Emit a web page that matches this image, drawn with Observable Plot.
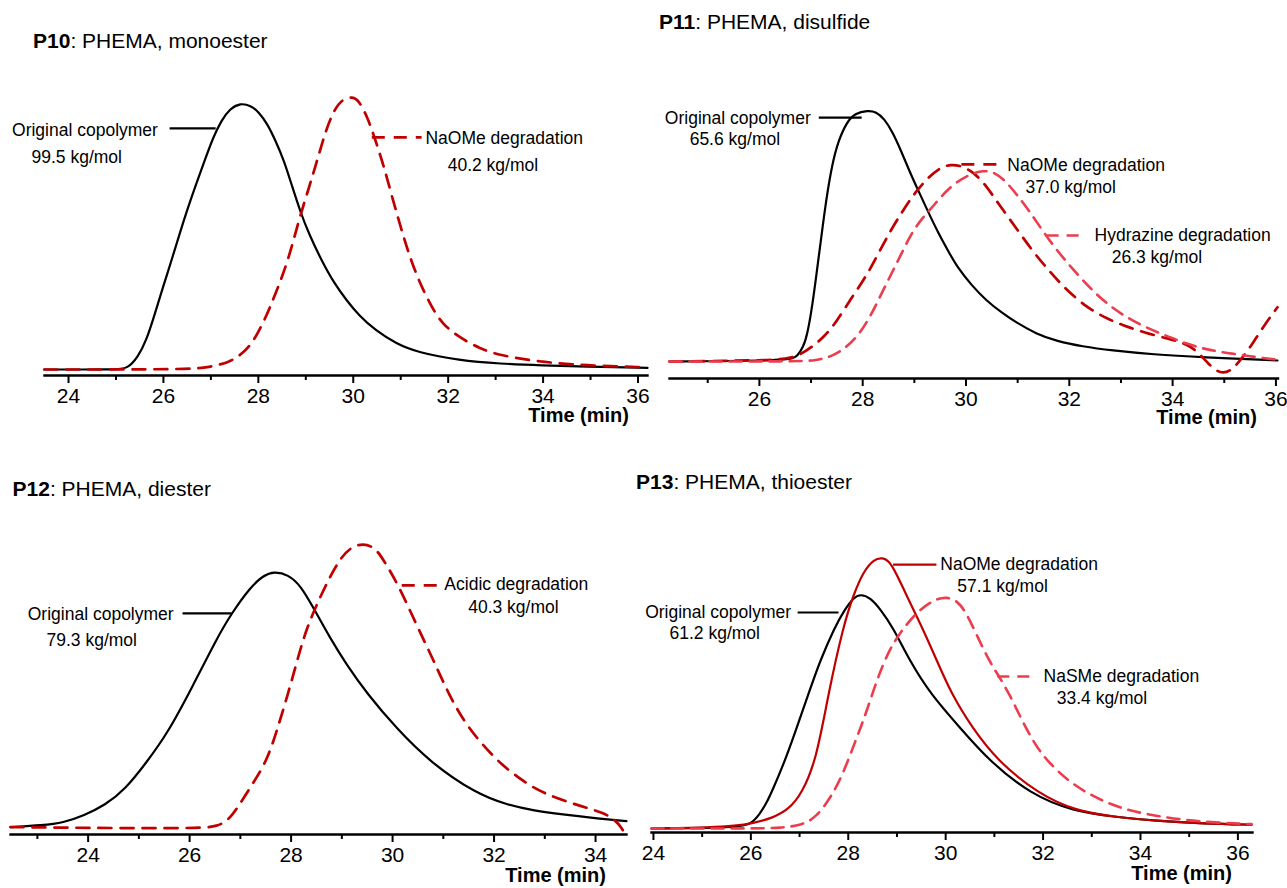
<!DOCTYPE html>
<html><head><meta charset="utf-8">
<script src="https://cdn.jsdelivr.net/npm/d3@7"></script>
<script src="https://cdn.jsdelivr.net/npm/@observablehq/plot@0.6"></script>
<style>
body{margin:0;background:#fff;}
#root{position:relative;width:1287px;height:888px;overflow:hidden;font-family:"Liberation Sans",Arial,sans-serif;color:#000;}
.panel{position:absolute;}
.panel svg{overflow:visible;}
.title{position:absolute;font-size:21px;white-space:nowrap;line-height:1;}
.xlabel{position:absolute;font-size:20px;font-weight:bold;white-space:nowrap;line-height:1;}
</style></head><body><div id="root"></div>
<script>
// ---------- DATA (time in min, relative intensity) ----------
// P10: PHEMA, monoester
const p10OrigT = [23.49, 25.0, 25.245, 25.46, 25.64, 25.82, 25.99, 26.17, 26.34, 26.52, 26.69, 26.87, 27.05, 27.22, 27.40, 27.62, 27.84, 28.01, 28.19, 28.36, 28.54, 28.71, 28.89, 29.07, 29.33, 29.59, 29.86, 30.12, 30.47, 30.91, 31.35, 32.23, 33.10, 33.98, 34.86, 36.2];
const p10OrigV = [0, 0, 0.003, 0.045, 0.106, 0.204, 0.302, 0.399, 0.497, 0.595, 0.680, 0.766, 0.851, 0.912, 0.955, 0.976, 0.967, 0.943, 0.900, 0.839, 0.766, 0.672, 0.575, 0.495, 0.400, 0.318, 0.253, 0.198, 0.143, 0.094, 0.063, 0.033, 0.021, 0.015, 0.011, 0.006];
const p10NaomeT = [23.49, 26.52, 26.96, 27.40, 27.66, 27.92, 28.19, 28.36, 28.63, 28.85, 29.07, 29.24, 29.42, 29.59, 29.77, 29.99, 30.12, 30.30, 30.47, 30.65, 30.82, 31.00, 31.17, 31.35, 31.61, 31.87, 32.23, 32.67, 33.10, 33.98, 34.86, 36.2];
const p10NaomeV = [0, 0, 0.008, 0.027, 0.057, 0.106, 0.204, 0.277, 0.399, 0.546, 0.668, 0.766, 0.875, 0.949, 0.991, 1.0, 0.985, 0.924, 0.839, 0.741, 0.631, 0.521, 0.424, 0.338, 0.241, 0.167, 0.118, 0.076, 0.051, 0.027, 0.015, 0.008];

// P11: PHEMA, disulfide
const p11OrigT = [24.26, 26.61, 26.73, 26.85, 26.93, 27.01, 27.09, 27.19, 27.29, 27.41, 27.53, 27.69, 27.85, 28.10, 28.26, 28.42, 28.58, 28.74, 28.90, 29.06, 29.27, 29.47, 29.67, 29.83, 30.11, 30.39, 30.72, 30.96, 31.36, 31.76, 32.25, 32.81, 33.62, 34.58, 36.03];
const p11OrigV = [0, 0.004, 0.02, 0.057, 0.110, 0.203, 0.323, 0.482, 0.641, 0.788, 0.880, 0.953, 0.989, 1.0, 0.995, 0.967, 0.914, 0.841, 0.761, 0.688, 0.595, 0.509, 0.435, 0.376, 0.303, 0.243, 0.190, 0.157, 0.110, 0.081, 0.060, 0.044, 0.028, 0.017, 0.004];
const p11NaomeT = [24.26, 26.12, 26.53, 26.77, 27.01, 27.25, 27.49, 27.77, 28.06, 28.30, 28.54, 28.78, 29.02, 29.27, 29.51, 29.71, 29.91, 30.15, 30.39, 30.63, 30.96, 31.28, 31.60, 31.92, 32.33, 32.73, 33.13, 33.54, 33.94, 34.26, 34.50, 34.70, 34.91, 35.11, 35.31, 35.55, 35.79, 36.03];
const p11NaomeV = [0, 0.004, 0.011, 0.024, 0.057, 0.097, 0.157, 0.250, 0.336, 0.429, 0.522, 0.602, 0.675, 0.734, 0.774, 0.785, 0.780, 0.754, 0.701, 0.628, 0.535, 0.442, 0.363, 0.290, 0.216, 0.170, 0.137, 0.110, 0.090, 0.071, 0.037, -0.012, -0.048, -0.042, 0.004, 0.071, 0.150, 0.216];
const p11HydrT = [24.26, 26.77, 27.09, 27.41, 27.69, 27.94, 28.14, 28.30, 28.46, 28.62, 28.78, 28.94, 29.14, 29.35, 29.67, 30.07, 30.35, 30.55, 30.76, 31.00, 31.24, 31.48, 31.76, 32.09, 32.41, 32.73, 33.05, 33.46, 33.86, 34.26, 34.66, 35.15, 35.63, 36.03];
const p11HydrV = [0, 0, 0.004, 0.02, 0.057, 0.110, 0.177, 0.243, 0.310, 0.376, 0.442, 0.509, 0.568, 0.615, 0.695, 0.748, 0.761, 0.754, 0.721, 0.661, 0.595, 0.522, 0.442, 0.363, 0.290, 0.230, 0.183, 0.137, 0.104, 0.071, 0.047, 0.031, 0.017, 0.007];

// P12: PHEMA, diester
const p12OrigT = [22.47, 23.10, 23.51, 23.92, 24.33, 24.74, 25.15, 25.56, 26.05, 26.55, 26.83, 27.20, 27.45, 27.67, 27.94, 28.19, 28.47, 28.76, 29.09, 29.50, 30.08, 30.73, 31.64, 32.29, 32.78, 33.36, 33.93, 34.61];
const p12OrigV = [0.005, 0.011, 0.020, 0.046, 0.081, 0.139, 0.232, 0.332, 0.495, 0.671, 0.755, 0.846, 0.887, 0.901, 0.890, 0.852, 0.764, 0.670, 0.575, 0.472, 0.350, 0.234, 0.122, 0.081, 0.063, 0.049, 0.037, 0.026];
const p12AcidT = [22.47, 23.92, 26.22, 26.55, 26.75, 26.91, 27.20, 27.53, 27.74, 27.94, 28.12, 28.31, 28.60, 28.93, 29.17, 29.42, 29.66, 29.83, 30.12, 30.49, 30.81, 31.10, 31.47, 32.05, 32.46, 32.95, 33.77, 34.18, 34.39, 34.51, 34.61];
const p12AcidV = [0.005, 0.002, 0, 0.008, 0.028, 0.063, 0.145, 0.238, 0.355, 0.472, 0.589, 0.706, 0.823, 0.939, 0.986, 1.0, 0.984, 0.939, 0.852, 0.706, 0.589, 0.472, 0.355, 0.238, 0.180, 0.122, 0.075, 0.054, 0.028, 0.005, -0.030];

// P13: PHEMA, thioester
const p13OrigT = [23.96, 25.24, 25.75, 26.01, 26.18, 26.31, 26.44, 26.69, 26.91, 27.17, 27.42, 27.72, 27.93, 28.11, 28.25, 28.45, 28.66, 28.92, 29.26, 29.69, 30.29, 30.89, 31.74, 32.60, 33.45, 34.31, 35.33, 36.28];
const p13OrigV = [0, 0.002, 0.007, 0.016, 0.053, 0.090, 0.139, 0.245, 0.355, 0.490, 0.619, 0.742, 0.809, 0.852, 0.865, 0.852, 0.809, 0.742, 0.619, 0.496, 0.373, 0.250, 0.127, 0.065, 0.043, 0.028, 0.018, 0.014];
const p13NaomeT = [23.96, 25.24, 25.67, 26.01, 26.44, 26.78, 27.04, 27.34, 27.59, 27.89, 28.11, 28.32, 28.53, 28.70, 28.88, 29.18, 29.52, 29.82, 30.12, 30.54, 31.06, 31.91, 32.68, 33.45, 34.31, 35.33, 36.28];
const p13NaomeV = [0, 0.004, 0.010, 0.018, 0.038, 0.071, 0.127, 0.250, 0.496, 0.742, 0.865, 0.951, 0.994, 1.0, 0.985, 0.865, 0.742, 0.619, 0.496, 0.373, 0.250, 0.127, 0.065, 0.043, 0.028, 0.018, 0.014];
const p13NasmeT = [23.96, 26.10, 26.61, 27.04, 27.34, 27.64, 27.89, 28.15, 28.36, 28.58, 28.83, 29.09, 29.43, 29.77, 30.03, 30.24, 30.42, 30.63, 30.89, 31.10, 31.31, 31.57, 31.83, 32.08, 32.51, 32.94, 33.37, 33.79, 34.31, 34.91, 35.51, 36.28];
const p13NasmeV = [0, 0, 0.002, 0.012, 0.041, 0.114, 0.200, 0.324, 0.422, 0.545, 0.656, 0.730, 0.803, 0.846, 0.855, 0.840, 0.797, 0.717, 0.619, 0.560, 0.496, 0.397, 0.311, 0.250, 0.176, 0.127, 0.090, 0.065, 0.047, 0.031, 0.022, 0.016];

// Labels
const titles = [["P10", ": PHEMA, monoester"], ["P11", ": PHEMA, disulfide"], ["P12", ": PHEMA, diester"], ["P13", ": PHEMA, thioester"]];
const xLabel = "Time (min)";
const p10Notes = ["Original copolymer", "99.5 kg/mol", "NaOMe degradation", "40.2 kg/mol"];
const p11Notes = ["Original copolymer", "65.6 kg/mol", "NaOMe degradation", "37.0 kg/mol", "Hydrazine degradation", "26.3 kg/mol"];
const p12Notes = ["Original copolymer", "79.3 kg/mol", "Acidic degradation", "40.3 kg/mol"];
const p13Notes = ["Original copolymer", "61.2 kg/mol", "NaOMe degradation", "57.1 kg/mol", "NaSMe degradation", "33.4 kg/mol"];

// ---------- STYLES / LAYOUT ----------
const BLACK = {stroke: "#000", strokeWidth: 2.2};
const DARK = {stroke: "#c00000", strokeWidth: 2.7, strokeDasharray: "13,9"};
const DARKSOLID = {stroke: "#c00000", strokeWidth: 2.2};
const PINK = {stroke: "#ec3d4f", strokeWidth: 2.6, strokeDasharray: "12,8"};

const zip = (t, v) => t.map((d, i) => ({t: d, v: v[i]}));

const panels = [
  {
    left: 0, top: 0, width: 650, height: 440, mL: 44, mR: 3, mB: 65,
    xDomain: [23.494, 36.2], yRange: [369, 96],
    major: [24, 26, 28, 30, 32, 34, 36], minor: [25, 27, 29, 31, 33, 35],
    series: [[p10OrigT, p10OrigV, BLACK], [p10NaomeT, p10NaomeV, DARK]],
    notes: p10Notes, noteAt: [[22.81, 0.875], [23.22, 0.777], [31.52, 0.846], [31.99, 0.747]],
    leaders: [[26.13, 27.10, 0.883, BLACK], [30.39, 31.44, 0.850, DARK]],
    title: {x: 33, y: 30}, xl: {right: 629, y: 405}
  },
  {
    left: 650, top: 0, width: 637, height: 440, mL: 19, mR: 9.5, mB: 62,
    xDomain: [24.26, 36.04], yRange: [361, 110],
    major: [26, 28, 30, 32, 34, 36], minor: [25, 27, 29, 31, 33, 35],
    series: [[p11OrigT, p11OrigV, BLACK], [p11NaomeT, p11NaomeV, DARK], [p11HydrT, p11HydrV, PINK]],
    notes: p11Notes, noteAt: [[24.17, 0.968], [24.65, 0.884], [30.80, 0.781], [31.15, 0.693], [32.49, 0.502], [32.82, 0.414]],
    leaders: [[27.15, 27.98, 0.972, BLACK], [29.91, 30.59, 0.785, DARK], [31.56, 32.29, 0.502, PINK]],
    title: {x: 659, y: 11}, xl: {right: 1257, y: 407}
  },
  {
    left: 0, top: 440, width: 640, height: 448, mL: 10, mR: 14, mB: 54,
    xDomain: [22.47, 34.61], yRange: [388, 102.7],
    major: [24, 26, 28, 30, 32, 34], minor: [23, 25, 27, 29, 31, 33],
    series: [[p12OrigT, p12OrigV, BLACK], [p12AcidT, p12AcidV, DARK]],
    notes: p12Notes, noteAt: [[22.81, 0.750], [23.18, 0.659], [31.02, 0.855], [31.49, 0.775]],
    leaders: [[25.86, 26.83, 0.754, BLACK], [30.18, 30.89, 0.852, DARK]],
    title: {x: 12.5, y: 478}, xl: {right: 606, y: 865}
  },
  {
    left: 630, top: 440, width: 657, height: 448, mL: 21, mR: 35, mB: 56,
    xDomain: [23.96, 36.30], yRange: [388, 117],
    major: [24, 26, 28, 30, 32, 34, 36], minor: [25, 27, 29, 31, 33, 35],
    series: [[p13OrigT, p13OrigV, BLACK], [p13NaomeT, p13NaomeV, DARKSOLID], [p13NasmeT, p13NasmeV, PINK]],
    notes: p13Notes, noteAt: [[23.83, 0.797], [24.33, 0.720], [29.89, 0.974], [30.24, 0.893], [32.01, 0.561], [32.28, 0.480]],
    leaders: [[26.96, 27.80, 0.797, BLACK], [28.92, 29.81, 0.974, DARKSOLID], [31.06, 31.82, 0.561, PINK]],
    title: {x: 636, y: 471}, xl: {right: 1232, y: 863}
  }
];

const root = document.getElementById("root");

panels.forEach((p, k) => {
  const marks = [];
  p.series.forEach(([t, v, st]) => {
    marks.push(Plot.line(zip(t, v), {x: "t", y: "v", curve: "basis", strokeLinejoin: "round", ...st}));
  });
  p.leaders.forEach(([a, b, v, st]) => {
    marks.push(Plot.link([{a, b, v}], {x1: "a", x2: "b", y1: "v", y2: "v", ...st}));
  });
  const notes = p.notes.map((s, i) => ({s, t: p.noteAt[i][0], v: p.noteAt[i][1]}));
  marks.push(Plot.text(notes, {x: "t", y: "v", text: "s", textAnchor: "start", lineAnchor: "middle", fontSize: 17.5, fill: "#000"}));
  marks.push(Plot.axisX({ticks: p.minor, tickSize: 5, tickFormat: () => "", strokeWidth: 2, label: null}));
  marks.push(Plot.axisX({ticks: p.major, tickSize: 8, tickPadding: 5, fontSize: 21, strokeWidth: 2, label: null}));
  marks.push(Plot.frame({anchor: "bottom", strokeWidth: 2.4}));

  const chart = Plot.plot({
    width: p.width, height: p.height,
    marginLeft: p.mL, marginRight: p.mR, marginTop: 0, marginBottom: p.mB,
    x: {domain: p.xDomain, label: null},
    y: {domain: [0, 1], range: p.yRange, axis: null},
    style: {fontFamily: '"Liberation Sans", Arial, sans-serif', fontSize: "21px", color: "#000", background: "transparent", overflow: "visible"},
    marks
  });
  const div = document.createElement("div");
  div.className = "panel";
  div.style.left = p.left + "px";
  div.style.top = p.top + "px";
  div.appendChild(chart);
  root.appendChild(div);

  const t = document.createElement("div");
  t.className = "title";
  t.style.left = p.title.x + "px";
  t.style.top = p.title.y + "px";
  const b = document.createElement("b");
  b.textContent = titles[k][0];
  t.appendChild(b);
  t.appendChild(document.createTextNode(titles[k][1]));
  root.appendChild(t);

  const xl = document.createElement("div");
  xl.className = "xlabel";
  xl.style.right = (1287 - p.xl.right) + "px";
  xl.style.top = p.xl.y + "px";
  xl.textContent = xLabel;
  root.appendChild(xl);
});
</script></body></html>
